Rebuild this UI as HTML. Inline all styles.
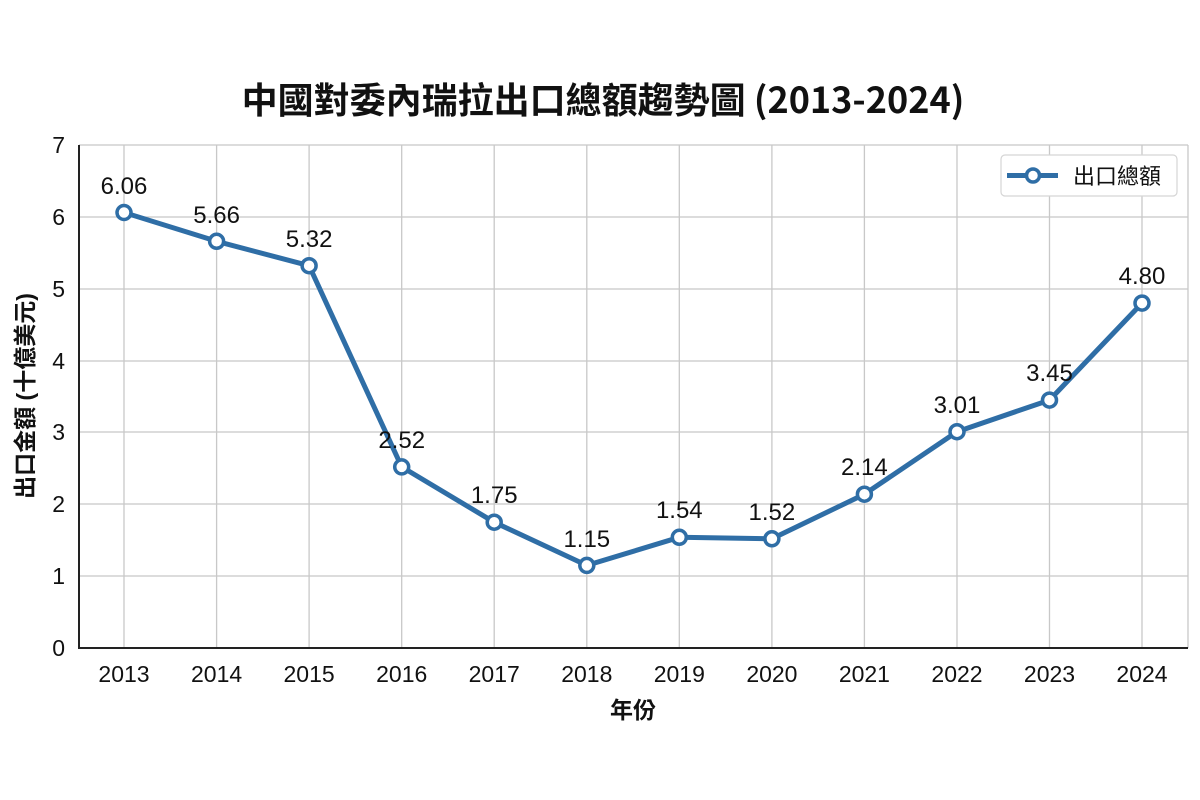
<!DOCTYPE html>
<html><head><meta charset="utf-8"><style>
html,body{margin:0;padding:0;background:#fff;}
svg{display:block;font-family:"Liberation Sans","Noto Sans CJK TC",sans-serif;}
</style></head><body>
<svg width="1200" height="800" viewBox="0 0 1200 800">
<rect width="1200" height="800" fill="#fff"/>
<text x="603" y="113" text-anchor="middle" font-size="36" font-weight="bold" fill="#111" font-family="'Noto Sans CJK TC',sans-serif">中國對委內瑞拉出口總額趨勢圖 (2013-2024)</text>
<g stroke="#c8c8c8" stroke-width="1.3">
<line x1="79" x2="1188" y1="145" y2="145"/>
<line x1="79" x2="1188" y1="217" y2="217"/>
<line x1="79" x2="1188" y1="289" y2="289"/>
<line x1="79" x2="1188" y1="361" y2="361"/>
<line x1="79" x2="1188" y1="432" y2="432"/>
<line x1="79" x2="1188" y1="504" y2="504"/>
<line x1="79" x2="1188" y1="576" y2="576"/>
<line x1="124" x2="124" y1="145" y2="648"/>
<line x1="216.6" x2="216.6" y1="145" y2="648"/>
<line x1="309.1" x2="309.1" y1="145" y2="648"/>
<line x1="401.7" x2="401.7" y1="145" y2="648"/>
<line x1="494.2" x2="494.2" y1="145" y2="648"/>
<line x1="586.8" x2="586.8" y1="145" y2="648"/>
<line x1="679.3" x2="679.3" y1="145" y2="648"/>
<line x1="771.9" x2="771.9" y1="145" y2="648"/>
<line x1="864.4" x2="864.4" y1="145" y2="648"/>
<line x1="957" x2="957" y1="145" y2="648"/>
<line x1="1049.5" x2="1049.5" y1="145" y2="648"/>
<line x1="1142" x2="1142" y1="145" y2="648"/>
<line x1="1188" x2="1188" y1="145" y2="648"/>
</g>
<line x1="79" x2="79" y1="145" y2="649" stroke="#222" stroke-width="2"/>
<line x1="78" x2="1188" y1="648" y2="648" stroke="#222" stroke-width="2"/>
<g font-size="23" fill="#111" text-anchor="end">
<text x="65" y="656">0</text><text x="65" y="584">1</text><text x="65" y="512">2</text><text x="65" y="440">3</text><text x="65" y="369">4</text><text x="65" y="297">5</text><text x="65" y="225">6</text><text x="65" y="153">7</text>
</g>
<g font-size="23" fill="#111" text-anchor="middle">
<text x="124" y="682">2013</text><text x="216.6" y="682">2014</text><text x="309.1" y="682">2015</text><text x="401.7" y="682">2016</text><text x="494.2" y="682">2017</text><text x="586.8" y="682">2018</text><text x="679.3" y="682">2019</text><text x="771.9" y="682">2020</text><text x="864.4" y="682">2021</text><text x="957" y="682">2022</text><text x="1049.5" y="682">2023</text><text x="1142" y="682">2024</text>
</g>
<text x="633" y="718" text-anchor="middle" font-size="23" font-weight="bold" fill="#111">年份</text>
<text transform="translate(33,396) rotate(-90)" text-anchor="middle" font-size="23" font-weight="bold" fill="#111">出口金額 (十億美元)</text>
<polyline fill="none" stroke="#2f6ea6" stroke-width="5" stroke-linejoin="round" points="124,212.5 216.6,241.3 309.1,265.7 401.7,466.9 494.2,522.2 586.8,565.4 679.3,537.3 771.9,538.8 864.4,494.2 957,431.7 1049.5,400.1 1142,303.1"/>
<g fill="#fff" stroke="#2f6ea6" stroke-width="3.5">
<circle cx="124" cy="212.5" r="7"/><circle cx="216.6" cy="241.3" r="7"/><circle cx="309.1" cy="265.7" r="7"/><circle cx="401.7" cy="466.9" r="7"/><circle cx="494.2" cy="522.2" r="7"/><circle cx="586.8" cy="565.4" r="7"/><circle cx="679.3" cy="537.3" r="7"/><circle cx="771.9" cy="538.8" r="7"/><circle cx="864.4" cy="494.2" r="7"/><circle cx="957" cy="431.7" r="7"/><circle cx="1049.5" cy="400.1" r="7"/><circle cx="1142" cy="303.1" r="7"/>
</g>
<g font-size="24" fill="#111" text-anchor="middle">
<text x="124" y="194">6.06</text><text x="216.6" y="223">5.66</text><text x="309.1" y="247">5.32</text><text x="401.7" y="448">2.52</text><text x="494.2" y="503">1.75</text><text x="586.8" y="547">1.15</text><text x="679.3" y="518">1.54</text><text x="771.9" y="520">1.52</text><text x="864.4" y="475">2.14</text><text x="957" y="413">3.01</text><text x="1049.5" y="381">3.45</text><text x="1142" y="284">4.80</text>
</g>
<rect x="1001" y="155" width="176" height="41" rx="4" fill="#fff" stroke="#d5d5d5" stroke-width="1.2"/>
<line x1="1007" x2="1058" y1="175.5" y2="175.5" stroke="#2f6ea6" stroke-width="5"/>
<circle cx="1033" cy="175.5" r="6.5" fill="#fff" stroke="#2f6ea6" stroke-width="3.5"/>
<text x="1073" y="184" font-size="22" fill="#111">出口總額</text>
</svg>
</body></html>
